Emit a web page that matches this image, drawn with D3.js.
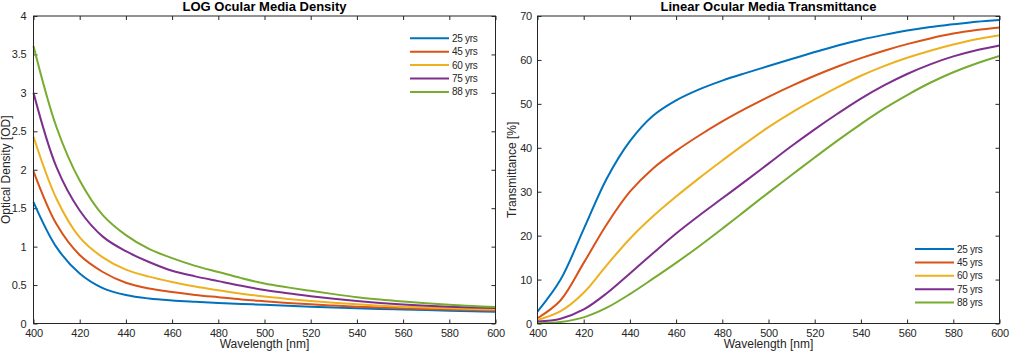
<!DOCTYPE html>
<html><head><meta charset="utf-8">
<script src="https://cdn.jsdelivr.net/npm/d3@7/dist/d3.min.js"></script>
<style>
body{margin:0;background:#fff}
svg text{font-family:"Liberation Sans",Arial,Helvetica,sans-serif;fill:#262626}
</style>
</head><body>
<svg id="chart" width="1011" height="351"></svg>
<script>
// ---- data ----
const wavelengths = [400,410,420,430,440,450,460,470,480,490,500,510,520,530,540,550,560,570,580,590,600];
const ageLabels = ["25 yrs","45 yrs","60 yrs","75 yrs","88 yrs"];
const colors = ["#0072BD","#D95319","#EDB120","#7E2F8E","#77AC30"];

// Optical density [OD]
const od25 = [1.58,0.99,0.65,0.46,0.37,0.325,0.30,0.283,0.268,0.255,0.243,0.23,0.218,0.208,0.199,0.19,0.182,0.174,0.166,0.159,0.153];
const od45 = [1.98,1.29,0.89,0.67,0.53,0.455,0.41,0.372,0.342,0.313,0.29,0.268,0.249,0.233,0.219,0.207,0.197,0.188,0.181,0.175,0.17];
const od60 = [2.43,1.62,1.12,0.86,0.70,0.61,0.54,0.48,0.432,0.388,0.35,0.32,0.294,0.27,0.249,0.232,0.218,0.207,0.197,0.189,0.183];
const od75 = [3.00,2.03,1.47,1.13,0.94,0.80,0.686,0.613,0.551,0.49,0.436,0.393,0.356,0.322,0.292,0.267,0.246,0.23,0.218,0.208,0.2];
const od88 = [3.61,2.55,1.86,1.41,1.15,0.97,0.85,0.75,0.67,0.59,0.52,0.47,0.425,0.382,0.343,0.311,0.285,0.262,0.243,0.228,0.215];

// Transmittance [%]
const t25 = [2.7,10.0,21.5,33.0,41.5,47.3,50.8,53.3,55.3,57.0,58.6,60.2,61.8,63.3,64.6,65.7,66.7,67.5,68.1,68.7,69.1];
const t45 = [1.2,5.3,13.8,22.6,30.0,35.3,39.3,42.8,46.0,48.9,51.6,54.1,56.4,58.5,60.4,62.1,63.6,64.9,66.0,66.8,67.4];
const t60 = [0.8,2.8,7.0,13.3,19.3,24.4,28.9,33.1,37.1,41.0,44.7,48.0,51.0,53.8,56.4,58.6,60.5,62.1,63.5,64.7,65.6];
const t75 = [0.45,1.1,3.2,6.9,11.4,16.0,20.5,24.6,28.5,32.4,36.4,40.4,44.2,47.8,51.2,54.2,56.8,59.0,60.8,62.2,63.3];
const t88 = [0.05,0.35,1.4,3.6,6.7,10.2,13.8,17.6,21.6,25.7,29.8,33.8,37.8,41.7,45.4,48.9,52.0,54.8,57.2,59.2,60.9];

const xTicks = [400,420,440,460,480,500,520,540,560,580,600];
const odTicks = [0,0.5,1,1.5,2,2.5,3,3.5,4];
const tTicks = [0,10,20,30,40,50,60,70];

// ---- drawing ----
const svg = d3.select("#chart");
const axisColor = "#262626";

function panel(opt){
  const g = svg.append("g");
  const x = d3.scaleLinear().domain([400,600]).range([opt.x0, opt.x1]);
  const y = d3.scaleLinear().domain(opt.yDomain).range([opt.y1, opt.y0]);

  const styleAxis = sel => {
    sel.select(".domain").remove();
    sel.selectAll("line").attr("stroke", axisColor).attr("stroke-width", 1);
    sel.selectAll("text").attr("font-size", "11px").attr("fill", axisColor).style("letter-spacing","-0.2px");
  };
  g.append("g").attr("transform", `translate(0,${opt.y1})`)
    .call(d3.axisBottom(x).tickValues(xTicks).tickFormat(d3.format("d")).tickSizeInner(-4).tickSizeOuter(0).tickPadding(5.5))
    .call(styleAxis);
  g.append("g").attr("transform", `translate(0,${opt.y0})`)
    .call(d3.axisTop(x).tickValues(xTicks).tickFormat("").tickSizeInner(-4).tickSizeOuter(0))
    .call(styleAxis);
  g.append("g").attr("transform", `translate(${opt.x0},0)`)
    .call(d3.axisLeft(y).tickValues(opt.yTicks).tickFormat(d => String(d)).tickSizeInner(-4).tickSizeOuter(0).tickPadding(opt.yPad))
    .call(styleAxis);
  g.append("g").attr("transform", `translate(${opt.x1},0)`)
    .call(d3.axisRight(y).tickValues(opt.yTicks).tickFormat("").tickSizeInner(-4).tickSizeOuter(0))
    .call(styleAxis);

  const line = d3.line().x((d,i) => x(wavelengths[i])).y(d => y(d)).curve(d3.curveCatmullRom.alpha(0.5));
  opt.series.forEach((s,i) => {
    g.append("path").datum(s).attr("d", line)
      .attr("fill","none").attr("stroke", colors[i]).attr("stroke-width", 2)
      .attr("stroke-linejoin","round");
  });

  g.append("rect").attr("x", opt.x0).attr("y", opt.y0)
    .attr("width", opt.x1 - opt.x0).attr("height", opt.y1 - opt.y0)
    .attr("fill","none").attr("stroke", axisColor).attr("stroke-width", 1);

  g.append("text").attr("x", (opt.x0+opt.x1)/2).attr("y", 11)
    .attr("text-anchor","middle").attr("font-size","13px").attr("font-weight","bold")
    .style("fill","#000").text(opt.title);
  g.append("text").attr("x", (opt.x0+opt.x1)/2).attr("y", 347.5)
    .attr("text-anchor","middle").attr("font-size","12px")
    .text("Wavelength [nm]");
  g.append("text").attr("transform", `translate(${opt.ylabX},${(opt.y0+opt.y1)/2}) rotate(-90)`)
    .attr("text-anchor","middle").attr("font-size","12px")
    .text(opt.ylab);

  const lg = g.append("g");
  ageLabels.forEach((lab,i) => {
    const yy = opt.legY + i*13.4;
    lg.append("line").attr("x1", opt.legX).attr("x2", opt.legX+39)
      .attr("y1", yy).attr("y2", yy).attr("stroke", colors[i]).attr("stroke-width", 2);
    lg.append("text").attr("x", opt.legX+42).attr("y", yy+3.5)
      .attr("font-size","10px").style("letter-spacing","-0.3px").text(lab);
  });
}

panel({x0:33.5, x1:495.5, y0:16, y1:323.5, yDomain:[0,4], yTicks:odTicks, yPad:7,
  series:[od25,od45,od60,od75,od88], title:"LOG Ocular Media Density",
  ylab:"Optical Density [OD]", ylabX:9.5, legX:410, legY:38.3});
panel({x0:537.5, x1:999.5, y0:16, y1:323.5, yDomain:[0,70], yTicks:tTicks, yPad:5.5,
  series:[t25,t45,t60,t75,t88], title:"Linear Ocular Media Transmittance",
  ylab:"Transmittance [%]", ylabX:515.5, legX:915, legY:249});
</script>
</body></html>
